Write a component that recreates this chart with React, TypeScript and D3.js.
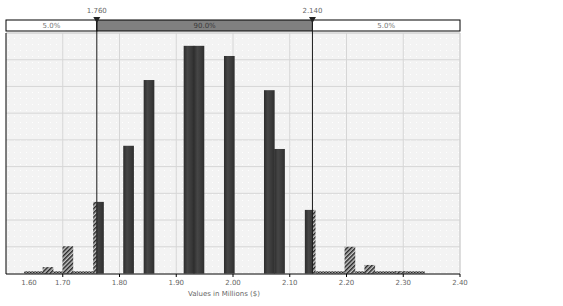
import React from "react";
import * as d3 from "d3";

// ---- data ----
const barValues: number[] = [1.674, 1.709, 1.763, 1.816, 1.852, 1.9225, 1.94, 1.9935, 2.064, 2.082, 2.136, 2.206, 2.241, 2.295];
const barHeights: number[] = [0.012, 0.051, 0.134, 0.239, 0.362, 0.426, 0.426, 0.407, 0.343, 0.233, 0.119, 0.05, 0.016, 0.004];
const tailBandStarts: number[] = [1.632, 2.145];
const tailBandEnds: number[] = [1.757, 2.338];
const tailBandHeight = 0.004;
const xTicks: number[] = [1.6, 1.7, 1.8, 1.9, 2.0, 2.1, 2.2, 2.3, 2.4];
const xTickLabels: string[] = ["1.60", "1.70", "1.80", "1.90", "2.00", "2.10", "2.20", "2.30", "2.40"];
const yGrid: number[] = [0.05, 0.1, 0.15, 0.2, 0.25, 0.3, 0.35, 0.4, 0.45];
const delimiters: number[] = [1.76, 2.14];
const delimiterLabels: string[] = ["1.760", "2.140"];
const bannerLabels: string[] = ["5.0%", "90.0%", "5.0%"];
const axisTitle = "Values in Millions ($)";
const binWidth = 0.0188;

const W = 563;
const H = 306;
const left = 6;
const right = 460;
const top = 33;
const bottom = 273.5;

export default function App() {
  const x = d3.scaleLinear().domain([1.6, 2.4]).range([left, right]);
  const y = d3.scaleLinear().domain([0, 0.45]).range([bottom, top]);
  const font = "'DejaVu Sans', sans-serif";
  const dLo = x(delimiters[0]);
  const dHi = x(delimiters[1]);
  const bannerTop = 20;
  const bannerBot = 31;
  const bannerSegs = [
    [left, dLo],
    [dLo, dHi],
    [dHi, right],
  ];

  return (
    <svg
      width={W}
      height={H}
      style={{ position: "absolute", left: 0, top: 0, display: "block", background: "#fff" }}
    >
      <defs>
        <pattern id="hatch" patternUnits="userSpaceOnUse" width={3} height={3} patternTransform="rotate(45)">
          <rect width={3} height={3} fill="#c8c8c8" />
          <rect width={1.5} height={3} fill="#262626" />
        </pattern>
        <pattern id="dotline" patternUnits="userSpaceOnUse" width={3} height={2}>
          <rect width={3} height={2} fill="#9a9a9a" />
          <rect width={1.5} height={1} fill="#2a2a2a" />
          <rect x={1.5} y={1} width={1.5} height={1} fill="#2a2a2a" />
        </pattern>
        <pattern id="dots" patternUnits="userSpaceOnUse" width={6} height={6}>
          <rect width={6} height={6} fill="#f3f3f3" />
          <rect x={2} y={2} width={1} height={1} fill="#ffffff" />
        </pattern>
        <linearGradient id="barGrad" x1="0" x2="1" y1="0" y2="0">
          <stop offset="0%" stopColor="#2c2c2c" />
          <stop offset="35%" stopColor="#464646" />
          <stop offset="70%" stopColor="#3a3a3a" />
          <stop offset="100%" stopColor="#2e2e2e" />
        </linearGradient>
        <clipPath id="inside">
          <rect x={dLo} y={0} width={dHi - dLo} height={H} />
        </clipPath>
        <clipPath id="outsideL">
          <rect x={0} y={0} width={dLo} height={H} />
        </clipPath>
        <clipPath id="outsideR">
          <rect x={dHi} y={0} width={W - dHi} height={H} />
        </clipPath>
      </defs>

      {/* plot background */}
      <rect x={left} y={top} width={right - left} height={bottom - top} fill="url(#dots)" />

      {/* grid */}
      {yGrid.map((v, i) => (
        <line key={"gy" + i} x1={left} x2={right} y1={y(v)} y2={y(v)} stroke="#d6d6d6" strokeWidth={1} />
      ))}
      {xTicks.slice(1).map((v, i) => (
        <line key={"gx" + i} x1={x(v)} x2={x(v)} y1={top} y2={bottom} stroke="#d6d6d6" strokeWidth={1} />
      ))}

      {/* tail bands */}
      {tailBandStarts.map((s, i) => (
        <rect
          key={"tb" + i}
          x={x(s)}
          y={y(tailBandHeight)}
          width={x(tailBandEnds[i]) - x(s)}
          height={y(0) - y(tailBandHeight)}
          fill="url(#dotline)"
        />
      ))}

      {/* bars: hatched outside delimiters, solid inside */}
      {barValues.map((v, i) => {
        const bx = x(v - binWidth / 2);
        const bw = x(v + binWidth / 2) - bx;
        const by = y(barHeights[i]);
        const bh = y(0) - by;
        return (
          <g key={"b" + i}>
            <rect x={bx} y={by} width={bw} height={bh} fill="url(#hatch)" clipPath="url(#outsideL)" />
            <rect x={bx} y={by} width={bw} height={bh} fill="url(#hatch)" clipPath="url(#outsideR)" />
            <rect x={bx} y={by} width={bw} height={bh} fill="url(#barGrad)" clipPath="url(#inside)" />
          </g>
        );
      })}

      {/* plot frame */}
      <line x1={left} x2={right} y1={top} y2={top} stroke="#cfcfcf" />
      <line x1={right} x2={right} y1={top} y2={bottom} stroke="#cfcfcf" />
      <line x1={left} x2={left} y1={top} y2={bottom + 0.5} stroke="#000" strokeWidth={1} />
      <line x1={left} x2={right} y1={bottom + 0.5} y2={bottom + 0.5} stroke="#000" strokeWidth={1} />

      {/* x ticks & labels */}
      {xTicks.map((v, i) => (
        <g key={"xt" + i}>
          {i > 0 && <line x1={x(v)} x2={x(v)} y1={bottom + 0.5} y2={bottom + 3.5} stroke="#000" />}
          <text
            x={i === 0 ? x(v) + 23 : x(v)}
            y={285}
            fontSize={7}
            fontFamily={font}
            fill="#666"
            textAnchor="middle"
          >
            {xTickLabels[i]}
          </text>
        </g>
      ))}
      <text x={224} y={296} fontSize={7} fontFamily={font} fill="#666" textAnchor="middle">
        {axisTitle}
      </text>

      {/* banner */}
      {bannerSegs.map((s, i) => (
        <g key={"bn" + i}>
          <rect
            x={s[0]}
            y={bannerTop}
            width={s[1] - s[0]}
            height={bannerBot - bannerTop}
            fill={i === 1 ? "#808080" : "#fff"}
            stroke="#000"
            strokeWidth={1}
          />
          <text
            x={(s[0] + s[1]) / 2}
            y={bannerTop + 7.5}
            fontSize={7}
            fontFamily={font}
            fill={i === 1 ? "#3a3a3a" : "#777"}
            textAnchor="middle"
          >
            {bannerLabels[i]}
          </text>
        </g>
      ))}

      {/* delimiters */}
      {delimiters.map((d, i) => (
        <g key={"dl" + i}>
          <line x1={x(d)} x2={x(d)} y1={bannerTop} y2={bottom} stroke="#1a1a1a" strokeWidth={1} />
          <path
            d={`M${x(d) - 3.5},${bannerTop - 3} L${x(d) + 3.5},${bannerTop - 3} L${x(d)},${bannerTop + 3} Z`}
            fill="#222"
          />
          <text x={x(d)} y={13} fontSize={7} fontFamily={font} fill="#666" textAnchor="middle">
            {delimiterLabels[i]}
          </text>
        </g>
      ))}
    </svg>
  );
}
